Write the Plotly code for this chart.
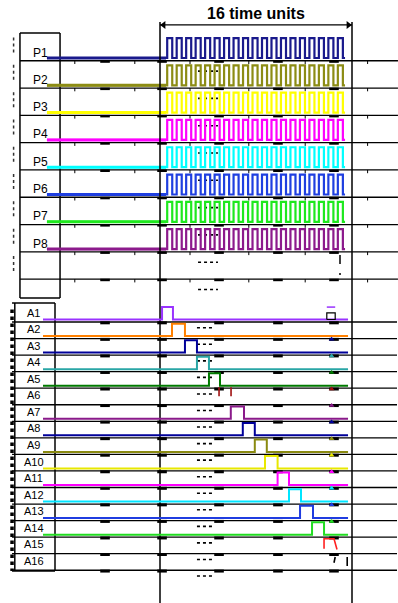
import plotly.graph_objects as go

# ---------------- data ----------------
P_names = ["P1", "P2", "P3", "P4", "P5", "P6", "P7", "P8"]
P_colors = ["#1a1a8c", "#8c8c14", "#ffff00", "#ff00ff", "#00ffff", "#1f3fe0", "#1ee81e", "#8c1a8c"]
P_rise = [0.6, 1.39, 2.18, 2.97, 3.76, 4.55, 5.34, 6.13, 6.92, 7.71, 8.5, 9.29,
          10.08, 10.87, 11.66, 12.45, 13.24, 14.03, 14.82]
P_fall = [1.02, 1.81, 2.6, 3.39, 4.18, 4.97, 5.76, 6.55, 7.34, 8.13, 8.92, 9.71,
          10.5, 11.29, 12.08, 12.87, 13.66, 14.45, 15.24]
P_start, P_end = -9.42, 15.42
P_high = 0.73

A_names = ["A1", "A2", "A3", "A4", "A5", "A6", "A7", "A8",
           "A9", "A10", "A11", "A12", "A13", "A14", "A15", "A16"]
A_colors = ["#9933ff", "#ff8000", "#000099", "#2aa6a6", "#007a00", None, "#8a1a8a", "#000099",
            "#8a8a10", "#e8e800", "#ff00ff", "#00e5ff", "#1f3ce0", "#22dd22", None, None]
A_pulse_colors = ["#9933ff", "#ff8000", "#000099", "#2aa6a6", "#007a00", "#a01010", "#8a1a8a", "#000099",
                  "#8a8a10", "#e8e800", "#ff00ff", "#00e5ff", "#1f3ce0", "#22dd22", "#ff2020", "#000000"]
A_pulse_start = [0.17, 1.0, 2.08, 3.08, 4.08, 4.92, 5.9, 6.9, 7.9, 8.75, 9.8, 10.75, 11.67, 12.67, 13.67, 14.6]
A_pulse_end = [1.08, 2.08, 3.08, 4.08, 5.0, 5.92, 7.0, 7.9, 8.9, 9.8, 10.75, 11.75, 12.75, 13.67, 14.75, 15.6]
A_start, A_end = -9.75, 15.67
A_high = 0.75

time_label = "16 time units"
span_start, span_end = 0, 16
grid_marks = [-4.58, 0.17, 4.92, 9.83, 14.5]

# ---------------- helpers ----------------
def segs(pairs):
    xs, ys = [], []
    for (x0, y0), (x1, y1) in pairs:
        xs += [x0, x1, None]
        ys += [y0, y1, None]
    return xs, ys

fig = go.Figure()

def add_line(x, y, color, width, yaxis="y", dash="solid", mode="lines", **kw):
    fig.add_trace(go.Scatter(x=x, y=y, mode=mode, yaxis=yaxis, hoverinfo="skip",
                             line=dict(color=color, width=width, dash=dash), showlegend=False, **kw))

# ---------------- top section (P rows) ----------------
nP = len(P_names)
top_seps = [k + 0.1 for k in range(nP + 1)]
bx, by = segs([((-11.67, -0.916), (-8.33, -0.916)), ((-11.67, -0.916), (-11.67, 8.79)),
               ((-8.33, -0.916), (-8.33, 8.79)), ((-11.67, 8.79), (-8.33, 8.79))])
add_line(bx, by, "black", 1.5)
sx, sy = segs([((-11.67, r), (19.83, r)) for r in top_seps])
add_line(sx, sy, "black", 1.3)
mx, my = segs([((c - 0.4, r + 0.03), (c + 0.4, r + 0.03)) for r in top_seps for c in grid_marks])
add_line(mx, my, "black", 2.5)
tx, ty = segs([((c, r), (c, r + 0.12)) for r in top_seps for c in [-7.1, -2.1, 2.5, 7.4, 12.1, 17.3]])
add_line(tx, ty, "black", 1)
dx, dy = segs([((3.17, k - 0.52), (4.83, k - 0.52)) for k in range(1, nP + 2)])
add_line(dx, dy, "black", 1.6, dash="dot")
lx, ly = segs([((-12.2, k - 0.75), (-12.2, k - 0.15)) for k in range(nP + 1)])
add_line(lx, ly, "#333333", 1.5, dash="dot")
add_line([15.0, 15.0], [7.22, 7.95], "black", 1.5, dash="dash")

for i, (name, col) in enumerate(zip(P_names, P_colors)):
    xs, ys = [P_start], [i]
    for r, f in zip(P_rise, P_fall):
        xs += [r, r, f, f]
        ys += [i, i - P_high, i - P_high, i]
    xs.append(P_end)
    ys.append(i)
    add_line([P_start, span_start + 0.5], [i, i], col, 3)
    add_line(xs, ys, col, 2.2)
    fig.add_annotation(x=-9.92, y=i - 0.2, yref="y", xref="x", text=name, showarrow=False,
                       font=dict(family="Liberation Sans Narrow, Liberation Sans, Arial", size=12, color="black"))

vx, vy = segs([((span_start, -1.32), (span_start, 19.96)), ((span_end, -1.32), (span_end, 19.96))])
add_line(vx, vy, "black", 1.5)
add_line([span_start, span_end], [-1.21, -1.21], "black", 1.2)
fig.add_trace(go.Scatter(x=[span_start + 0.3, span_end - 0.3], y=[-1.21, -1.21], mode="markers",
                         marker=dict(symbol=["triangle-left", "triangle-right"], size=7, color="black"),
                         hoverinfo="skip", showlegend=False))
fig.add_annotation(x=(span_start + span_end) / 2, y=-1.62, xref="x", yref="y", text="<b>" + time_label + "</b>",
                   showarrow=False, font=dict(family="Liberation Sans, Arial", size=16, color="black"))

# ---------------- lower section (A rows) ----------------
nA = len(A_names)
low_seps = [j + 0.15 for j in range(nA)]
bx, by = segs([((-12.33, -1.0), (-8.75, -1.0)), ((-8.75, -1.0), (-8.75, 15.2)),
               ((-12.33, 15.2), (-8.75, 15.2)), ((-12.1, -1.0), (-12.1, 15.2))])
add_line(bx, by, "black", 1.5, yaxis="y2")
add_line([-12.33, -12.33], [-0.6, 15.2], "black", 3.5, yaxis="y2", dash="dot")
sx, sy = segs([((-12.33, r), (19.75, r)) for r in low_seps])
add_line(sx, sy, "black", 1.3, yaxis="y2")
mx, my = segs([((c - 0.4, r + 0.05), (c + 0.4, r + 0.05)) for r in low_seps for c in grid_marks])
add_line(mx, my, "black", 3, yaxis="y2")
dx, dy = segs([((3.08, j - 0.5), (4.33, j - 0.5)) for j in range(1, nA + 1)])
add_line(dx, dy, "black", 1.6, yaxis="y2", dash="dot")

for j, (name, col, pcol, s, e) in enumerate(zip(A_names, A_colors, A_pulse_colors, A_pulse_start, A_pulse_end)):
    if col is not None:
        xs = [A_start, s, s, e, e, A_end]
        ys = [j, j, j - A_high, j - A_high, j, j]
        add_line(xs, ys, col, 2, yaxis="y2")
    elif name == "A6":
        px, py = segs([((s, j - 0.9), (s, j - 0.3)), ((e, j - 0.9), (e, j - 0.2))])
        add_line(px, py, pcol, 1.6, yaxis="y2", dash="dash")
    elif name == "A15":
        add_line([s, s, e - 0.25, e], [j - 0.15, j - A_high, j - A_high, j - 0.1], pcol, 1.6, yaxis="y2")
    else:
        px, py = segs([((s, j - 0.65), (s - 0.1, j - 0.3)), ((e, j - 0.65), (e, j - 0.1))])
        add_line(px, py, pcol, 1.6, yaxis="y2")
    fig.add_annotation(x=-10.54, y=j - 0.42, xref="x", yref="y2", text=name, showarrow=False,
                       font=dict(family="Liberation Sans Narrow, Liberation Sans, Arial", size=11, color="black"))

mk_rows = [j for j in range(2, 14)]
fig.add_trace(go.Scatter(x=[14.3] * len(mk_rows), y=[j - 0.8 for j in mk_rows], yaxis="y2", mode="markers",
                         marker=dict(symbol="triangle-up", size=5,
                                     color=[A_pulse_colors[j] for j in mk_rows]),
                         hoverinfo="skip", showlegend=False))
add_line([13.9, 14.6], [-0.75, -0.75], A_pulse_colors[0], 1.5, yaxis="y2")
add_line([13.9, 13.9, 14.6, 14.6, 13.9], [0, -0.4, -0.4, 0, 0], "black", 1.2, yaxis="y2")

fig.update_layout(
    width=398, height=603, margin=dict(l=0, r=0, t=0, b=0),
    paper_bgcolor="white", plot_bgcolor="white", showlegend=False,
    xaxis=dict(range=[-13.333, 19.833], visible=False, fixedrange=True),
    yaxis=dict(range=[19.963, -2.1245], visible=False, domain=[0, 1], fixedrange=True),
    yaxis2=dict(range=[17.13, -19.305], visible=False, overlaying="y", fixedrange=True),
)

fig.write_html("out.html", config={"displayModeBar": False},
               post_script="document.body.style.margin='0';")
